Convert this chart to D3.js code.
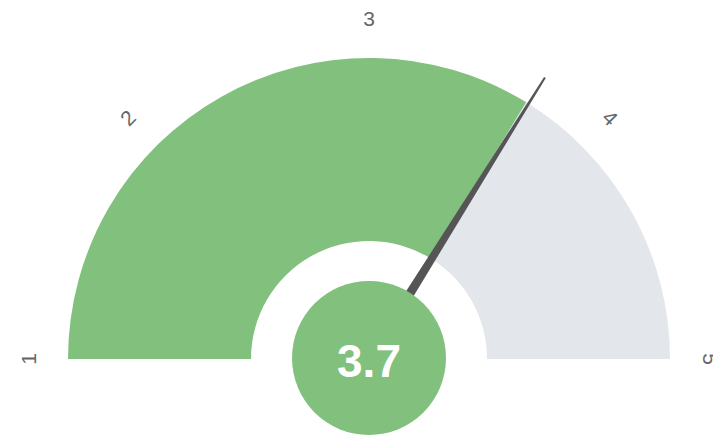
<!DOCTYPE html>
<html>
<head>
<meta charset="utf-8">
<script src="https://cdn.jsdelivr.net/npm/d3@7"></script>
<style>
  html, body { margin: 0; padding: 0; background: #fff; }
  svg { display: block; font-family: "Liberation Sans", Arial, sans-serif; }
</style>
</head>
<body>
<div id="chart"></div>
<script>
const ticks = [1, 2, 3, 4, 5];
const value = [3.7];
const bands = [{from: 1, to: 3.7, color: '#81c17d'}, {from: 3.7, to: 5, color: '#e3e6eb'}];

const w = 713;
const h = 436;
const cx = 369;
const cy = 359;
const rOuter = 301;
const rInner = 118;
const rLabel = 341;
const rNeedle = 332;
const rCircle = 77;

const angle = d3.scaleLinear()
                .domain([1, 5])
                .range([-Math.PI / 2, Math.PI / 2]);

const svg = d3.select("#chart")
                .append("svg")
                .attr("width", w)
                .attr("height", h);

const g = svg.append("g")
            .attr("transform", `translate(${cx}, ${cy})`);

const arc = d3.arc()
            .innerRadius(rInner)
            .outerRadius(rOuter);

g.selectAll(".band")
    .data(bands)
    .enter()
    .append("path")
    .attr("class", "band")
    .attr("d", (d) => arc({startAngle: angle(d.from), endAngle: angle(d.to)}))
    .attr("fill", (d) => d.color);

// tick labels round the outside
g.selectAll(".tick")
    .data(ticks)
    .enter()
    .append("text")
    .attr("class", "tick")
    .attr("transform", (d) => {
        const a = angle(d);
        const x = rLabel * Math.sin(a);
        const y = -rLabel * Math.cos(a);
        return `translate(${x}, ${y}) rotate(${a * 180 / Math.PI})`;
    })
    .attr("text-anchor", "middle")
    .attr("dominant-baseline", "central")
    .attr("fill", "#666")
    .attr("font-size", 21)
    .text((d) => d);

// needle
const needle = g.append("g")
                .attr("transform", `rotate(${angle(value[0]) * 180 / Math.PI + 0.5})`);

needle.append("path")
    .attr("d", `M -5.5 0 L -1 ${-rNeedle} L 1 ${-rNeedle} L 5.5 0 Z`)
    .attr("fill", "#555");

g.append("circle")
    .attr("r", rCircle)
    .attr("cy", -1)
    .attr("fill", "#81c17d");

g.append("text")
    .attr("y", 2)
    .attr("text-anchor", "middle")
    .attr("dominant-baseline", "central")
    .attr("fill", "#fff")
    .attr("font-size", 46)
    .attr("font-weight", "bold")
    .text(value[0].toFixed(1));
</script>
</body>
</html>
